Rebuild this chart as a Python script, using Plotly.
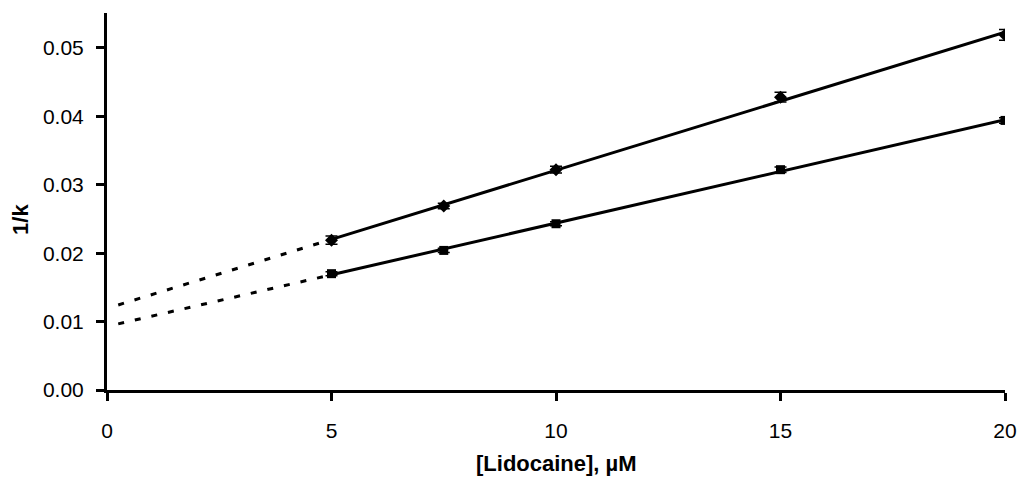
import numpy as np
import plotly.graph_objects as go

conc = [5, 7.5, 10, 15, 20]
upper_y = [0.0219, 0.0269, 0.0322, 0.0428, 0.0519]
upper_err = [0.0006, 0.0004, 0.0005, 0.0007, 0.0008]
lower_y = [0.0170, 0.0204, 0.0243, 0.0322, 0.0394]
lower_err = [0.0003, 0.0003, 0.0003, 0.0004, 0.0004]
x_ticks = [0, 5, 10, 15, 20]
y_ticks = [0, 0.01, 0.02, 0.03, 0.04, 0.05]
extrap_start = 0.25

fig = go.Figure()

for ys, errs, sym in [(upper_y, upper_err, "diamond"), (lower_y, lower_err, "square")]:
    m, b = np.polyfit(conc, ys, 1)
    xs_solid = [conc[0], conc[-1]]
    xs_dash = [extrap_start, conc[0]]
    fig.add_trace(go.Scatter(x=xs_solid, y=[m * v + b for v in xs_solid], mode="lines",
                             line=dict(color="black", width=3), showlegend=False, hoverinfo="skip"))
    fig.add_trace(go.Scatter(x=xs_dash, y=[m * v + b for v in xs_dash], mode="lines",
                             line=dict(color="black", width=3, dash="6px,11px"), showlegend=False, hoverinfo="skip"))
    fig.add_trace(go.Scatter(x=conc, y=ys, mode="markers",
                             marker=dict(symbol=sym, size=9 if sym == "square" else 10, color="black"),
                             error_y=dict(type="data", array=errs, color="black", thickness=1.5, width=6),
                             showlegend=False))

fig.update_layout(
    width=1019, height=479,
    margin=dict(l=107, r=14, t=13, b=89),
    plot_bgcolor="white", paper_bgcolor="white",
    font=dict(family="Liberation Sans, Arial, sans-serif", size=21, color="black"),
    annotations=[
        dict(text="<b>[Lidocaine], µM</b>", xref="paper", yref="paper", x=0.5, y=-0.196,
             xanchor="center", yanchor="middle", showarrow=False, font=dict(size=22)),
        dict(text="<b>1/k</b>", xref="paper", yref="paper", x=-0.0958, y=0.4536,
             xanchor="center", yanchor="middle", showarrow=False, textangle=-90, font=dict(size=22)),
    ],
)
fig.update_xaxes(range=[0, 20], tickvals=x_ticks, showgrid=False, zeroline=False, automargin=False,
                 showline=True, linecolor="black", linewidth=3,
                 ticks="outside", ticklen=8, tickwidth=2.5, tickcolor="black",
                 ticklabelstandoff=12, tickfont=dict(size=21))
fig.update_yaxes(range=[0, 0.0551], tickvals=y_ticks, tickformat=".2f", showgrid=False, zeroline=False,
                 automargin=False,
                 showline=True, linecolor="black", linewidth=3,
                 ticks="outside", ticklen=8, tickwidth=2.5, tickcolor="black",
                 ticklabelstandoff=8, tickfont=dict(size=21))

fig.write_html("out.html", config={"displayModeBar": False},
               post_script="document.body.style.margin='0';")
